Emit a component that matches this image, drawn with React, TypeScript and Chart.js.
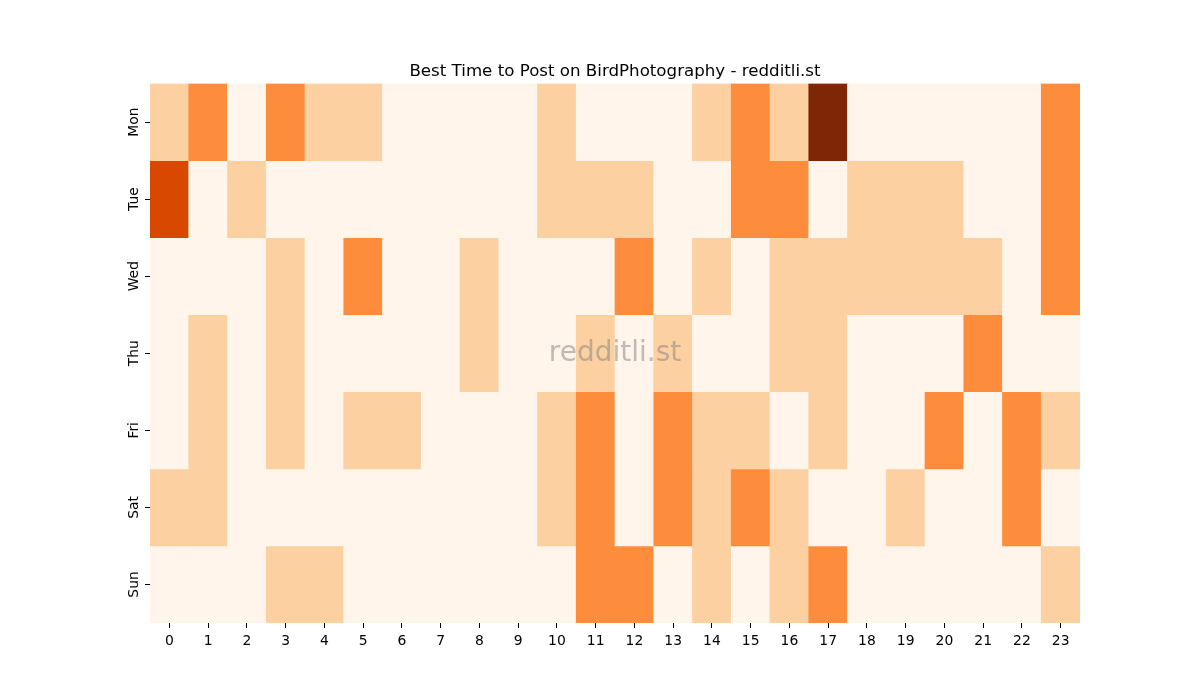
import { useEffect, useRef } from "react";
import { Chart, registerables } from "chart.js";
import type { ChartConfiguration, Plugin } from "chart.js";

Chart.register(...registerables);

const hours = [
  "0", "1", "2", "3", "4", "5", "6", "7", "8", "9", "10", "11",
  "12", "13", "14", "15", "16", "17", "18", "19", "20", "21", "22", "23",
];
const days = ["Mon", "Tue", "Wed", "Thu", "Fri", "Sat", "Sun"];

// nível de atividade por hora (0 = nada, 4 = máximo)
const mon = [1, 2, 0, 2, 1, 1, 0, 0, 0, 0, 1, 0, 0, 0, 1, 2, 1, 4, 0, 0, 0, 0, 0, 2];
const tue = [3, 0, 1, 0, 0, 0, 0, 0, 0, 0, 1, 1, 1, 0, 0, 2, 2, 0, 1, 1, 1, 0, 0, 2];
const wed = [0, 0, 0, 1, 0, 2, 0, 0, 1, 0, 0, 0, 2, 0, 1, 0, 1, 1, 1, 1, 1, 1, 0, 2];
const thu = [0, 1, 0, 1, 0, 0, 0, 0, 1, 0, 0, 1, 0, 1, 0, 0, 1, 1, 0, 0, 0, 2, 0, 0];
const fri = [0, 1, 0, 1, 0, 1, 1, 0, 0, 0, 1, 2, 0, 2, 1, 1, 0, 1, 0, 0, 2, 0, 2, 1];
const sat = [1, 1, 0, 0, 0, 0, 0, 0, 0, 0, 1, 2, 0, 2, 1, 2, 1, 0, 0, 1, 0, 0, 2, 0];
const sun = [0, 0, 0, 1, 1, 0, 0, 0, 0, 0, 0, 2, 2, 0, 1, 0, 1, 2, 0, 0, 0, 0, 0, 1];

const rows = [mon, tue, wed, thu, fri, sat, sun];

const title = "Best Time to Post on BirdPhotography - redditli.st";

// Oranges, vmin 0 / vmax 4
const oranges = ["#fff5eb", "#fdd0a2", "#fd8d3c", "#d94801", "#7f2704"];

const FONT = "'DejaVu Sans', sans-serif";

// título centrado sobre a área do gráfico + marca d'água
const decorations: Plugin<"bar"> = {
  id: "decorations",
  afterDatasetsDraw(chart) {
    const { ctx, chartArea } = chart;
    const cx = (chartArea.left + chartArea.right) / 2;
    ctx.save();
    ctx.font = `28px ${FONT}`;
    ctx.fillStyle = "rgba(128,128,128,0.5)";
    ctx.textAlign = "center";
    ctx.textBaseline = "middle";
    ctx.fillText("redditli.st", cx, (chartArea.top + chartArea.bottom) / 2);

    ctx.font = `16.67px ${FONT}`;
    ctx.fillStyle = "#000";
    ctx.textBaseline = "alphabetic";
    ctx.fillText(title, cx, chartArea.top - 7.5);
    ctx.restore();
  },
};

export default function App() {
  const canvasRef = useRef<HTMLCanvasElement>(null);
  const chartRef = useRef<Chart | null>(null);

  useEffect(() => {
    document.body.style.margin = "0";
    if (!canvasRef.current) return;
    chartRef.current?.destroy();

    const datasets = rows.map((row, r) => ({
      label: days[r],
      data: row.map(() => [r, r + 1] as [number, number]),
      backgroundColor: row.map((v) => oranges[v]),
      borderWidth: 0,
      barPercentage: 1,
      categoryPercentage: 1,
      grouped: false,
      yAxisID: "y",
    }));

    const axisGrid = {
      offset: false,
      drawOnChartArea: false,
      drawTicks: true,
      tickLength: 5,
      color: "#000",
      lineWidth: 1,
    };

    const config: ChartConfiguration<"bar", [number, number][], string> = {
      type: "bar",
      data: { labels: hours, datasets },
      options: {
        animation: false,
        responsive: true,
        maintainAspectRatio: false,
        events: [],
        layout: { padding: { top: 83.5, left: 110, right: 120, bottom: 37 } },
        plugins: {
          legend: { display: false },
          tooltip: { enabled: false },
        },
        scales: {
          x: {
            type: "category",
            offset: true,
            grid: axisGrid,
            border: { display: false },
            ticks: {
              color: "#000",
              font: { family: FONT, size: 13.9 },
              padding: 5,
              maxRotation: 0,
              autoSkip: false,
            },
            afterFit: (s) => {
              s.height = 40;
            },
          },
          y: {
            type: "linear",
            min: 0,
            max: 7,
            reverse: true,
            display: false,
          },
          yDays: {
            type: "category",
            labels: days,
            position: "left",
            offset: true,
            grid: axisGrid,
            border: { display: false },
            ticks: {
              color: "#000",
              font: { family: FONT, size: 13.9 },
              minRotation: 90,
              maxRotation: 90,
              crossAlign: "center",
              padding: -5,
              autoSkip: false,
            },
            afterFit: (s) => {
              s.width = 40;
            },
          },
        },
      },
      plugins: [decorations],
    };

    chartRef.current = new Chart(canvasRef.current, config);

    return () => {
      chartRef.current?.destroy();
      chartRef.current = null;
    };
  }, []);

  return (
    <div style={{ position: "relative", width: 1200, height: 700, background: "#fff" }}>
      <canvas ref={canvasRef}></canvas>
    </div>
  );
}
